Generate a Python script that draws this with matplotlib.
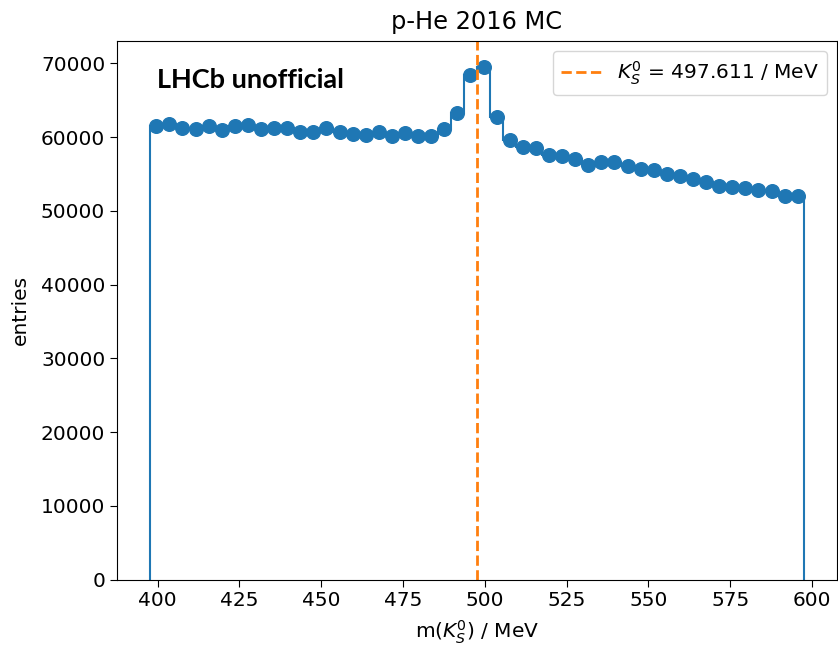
import matplotlib
matplotlib.use("Agg")
import matplotlib.pyplot as plt
import numpy as np

# K0S mass window, 50 bins of 4 MeV around the PDG mass
mass_kshort = 497.611
n_bins = 50
edges = np.linspace(mass_kshort - 100, mass_kshort + 100, n_bins + 1)
centers = 0.5 * (edges[1:] + edges[:-1])

entries = [61460, 61730, 61190, 61100, 61550, 61010, 61550, 61640, 61100, 61190,
           61280, 60650, 60700, 61190, 60650, 60420, 60280, 60740, 60190, 60550,
           60190, 60100, 61100, 63270, 68440, 69550, 62690, 59600, 58610, 58470,
           57560, 57470, 57020, 56200, 56570, 56570, 56020, 55620, 55570, 54980,
           54670, 54300, 53850, 53400, 53170, 53080, 52850, 52720, 51950, 52040]

plt.rcParams['font.size'] = 14.5

fig = plt.figure(figsize=(8.38, 6.46), dpi=100)
ax = fig.add_axes([117/838, 1 - 579.5/646, 720/838, 538.5/646])

ax.stairs(entries, edges, color='C0', lw=1.5)
ax.plot(centers, entries, 'o', color='C0', markersize=9.8)
ax.axvline(mass_kshort, color='C1', ls='--', lw=2,
           label=r'$K_S^0$ = %.3f / MeV' % mass_kshort)

ax.set_xlim(387.6, 607.6)
ax.set_ylim(0, 1.05 * max(entries))
ax.set_xticks([400, 425, 450, 475, 500, 525, 550, 575, 600])
ax.set_yticks(range(0, 70001, 10000))
ax.tick_params(length=5)

ax.set_xlabel(r'm($K_S^0$) / MeV', labelpad=6)
ax.set_ylabel('entries', labelpad=8)
ax.set_title('p-He 2016 MC', pad=9)
ax.text(0.056, 0.913, 'LHCb unofficial', transform=ax.transAxes,
        fontsize=19.5, fontweight='bold', family='Lato', va='baseline')
ax.legend(loc='upper right')

fig.savefig('out.png', dpi=100)
